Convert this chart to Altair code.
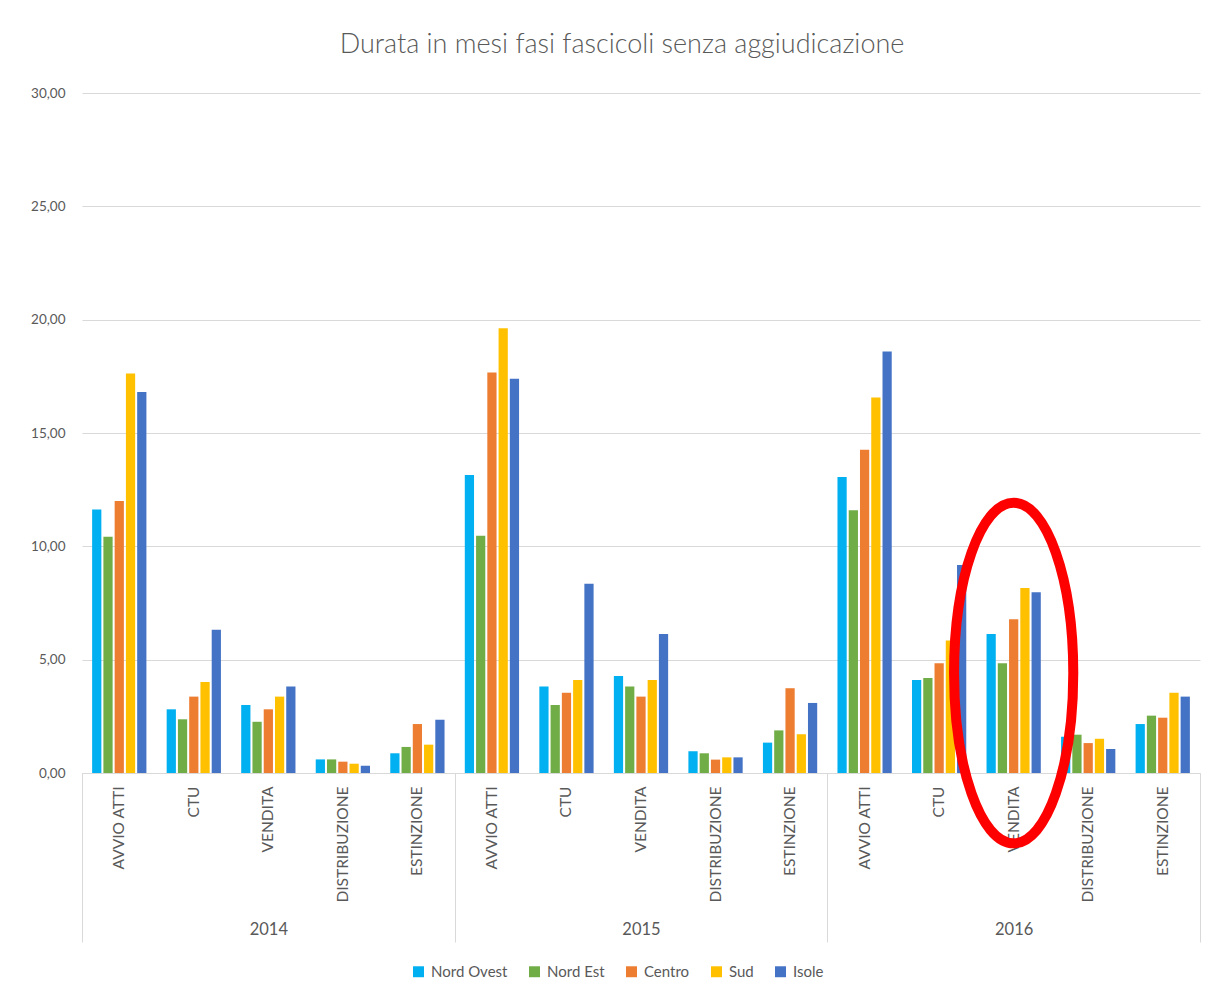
import altair as alt
import pandas as pd

years = ["2014", "2015", "2016"]
phases = ["AVVIO ATTI", "CTU", "VENDITA", "DISTRIBUZIONE", "ESTINZIONE"]
regions = ["Nord Ovest", "Nord Est", "Centro", "Sud", "Isole"]
colors = ["#00B0F0", "#70AD47", "#ED7D31", "#FFC000", "#4472C4"]

# values[year][phase] = [Nord Ovest, Nord Est, Centro, Sud, Isole]
v2014 = {
    "AVVIO ATTI":    [11.63, 10.42, 12.00, 17.63, 16.81],
    "CTU":           [2.81, 2.37, 3.37, 4.01, 6.32],
    "VENDITA":       [3.00, 2.26, 2.81, 3.37, 3.82],
    "DISTRIBUZIONE": [0.60, 0.60, 0.50, 0.41, 0.32],
    "ESTINZIONE":    [0.87, 1.15, 2.16, 1.25, 2.35],
}
v2015 = {
    "AVVIO ATTI":    [13.15, 10.47, 17.67, 19.62, 17.39],
    "CTU":           [3.82, 3.00, 3.54, 4.10, 8.35],
    "VENDITA":       [4.28, 3.82, 3.37, 4.10, 6.13],
    "DISTRIBUZIONE": [0.96, 0.87, 0.59, 0.69, 0.69],
    "ESTINZIONE":    [1.34, 1.88, 3.74, 1.71, 3.09],
}
v2016 = {
    "AVVIO ATTI":    [13.06, 11.59, 14.26, 16.57, 18.60],
    "CTU":           [4.10, 4.19, 4.84, 5.85, 9.18],
    "VENDITA":       [6.13, 4.84, 6.78, 8.16, 7.97],
    "DISTRIBUZIONE": [1.60, 1.69, 1.32, 1.51, 1.06],
    "ESTINZIONE":    [2.16, 2.53, 2.44, 3.54, 3.37],
}
values = {"2014": v2014, "2015": v2015, "2016": v2016}

# highlighted group (red ellipse annotation)
highlight_year = "2016"
highlight_phase = "VENDITA"
highlight_center = 4.41

rows = []
for y in years:
    for p in phases:
        for r, val in zip(regions, values[y][p]):
            rows.append({"cat": f"{y}|{p}", "year": y, "phase": p, "region": r, "value": val})
df = pd.DataFrame(rows)
cats = [f"{y}|{p}" for y in years for p in phases]

FONT = "Lato"
GRAY = "#595959"
LINE = "#d9d9d9"

xcat = alt.X(
    "cat:N",
    sort=cats,
    scale=alt.Scale(domain=cats, paddingInner=0, paddingOuter=0),
    axis=alt.Axis(
        title=None, orient="bottom", labelAngle=270, labelAlign="right",
        labelBaseline="middle", labelPadding=13, ticks=False, domain=True,
        domainColor=LINE, labelColor=GRAY, labelFontSize=15.5, labelFont=FONT,
        labelExpr="split(datum.value, '|')[1]",
    ),
)

yenc = alt.Y(
    "value:Q",
    scale=alt.Scale(domain=[0, 30]),
    axis=alt.Axis(
        title=None, values=[0, 5, 10, 15, 20, 25, 30], grid=True, gridColor=LINE,
        domain=False, ticks=False, labelColor=GRAY, labelFontSize=13.5, labelFont=FONT,
        labelPadding=17, labelExpr="replace(format(datum.value, '.2f'), '.', ',')",
    ),
)

bars = alt.Chart(df).mark_bar().encode(
    x=xcat,
    xOffset=alt.XOffset("region:N", sort=regions,
                        scale=alt.Scale(domain=regions, paddingInner=0.18, paddingOuter=0.9)),
    y=yenc,
    color=alt.Color(
        "region:N", sort=regions,
        scale=alt.Scale(domain=regions, range=colors),
        legend=alt.Legend(
            title=None, orient="none", direction="horizontal", legendX=329, legendY=871,
            symbolType="square", symbolSize=120, symbolStrokeWidth=0,
            labelColor=GRAY, labelFontSize=15, labelFont=FONT, columnPadding=19,
            labelOffset=5,
        ),
    ),
)

ell_df = pd.DataFrame([{"cat": f"{highlight_year}|{highlight_phase}", "value": highlight_center}])
ellipse = alt.Chart(ell_df).mark_point(
    shape="M0,-1 A0.35,1 0 1,1 0,1 A0.35,1 0 1,1 0,-1 Z",
    size=116000, filled=False, stroke="#ff0000", strokeWidth=10, opacity=1, clip=False,
).encode(x=xcat, y=yenc)

year_df = pd.DataFrame({"year": years})
year_axis = alt.Chart(year_df).mark_tick(opacity=0).encode(
    x=alt.X(
        "year:N", sort=years,
        scale=alt.Scale(domain=years, paddingInner=0, paddingOuter=0),
        axis=alt.Axis(
            title=None, orient="bottom", tickBand="extent", tickSize=169, tickColor=LINE,
            tickWidth=1, domain=False, labelAngle=0, labelBaseline="top",
            labelPadding=-21, labelColor=GRAY, labelFontSize=16.5, labelFont=FONT,
        ),
    ),
)

main = alt.layer(bars, ellipse)
chart = alt.layer(main, year_axis).resolve_scale(x="independent").resolve_axis(x="independent").properties(
    width=1118,
    height=680,
    title=alt.TitleParams(
        "Durata in mesi fasi fascicoli senza aggiudicazione",
        fontSize=27, font=FONT, fontWeight=300, color=GRAY, anchor="middle",
        offset=27, dx=-19,
    ),
    autosize=alt.AutoSizeParams(type="none"),
    padding={"left": 74, "top": 85, "right": 9, "bottom": 215},
).configure(background="white").configure_view(strokeWidth=0, stroke="transparent")

chart.save("out.html", embed_options={"renderer": "svg", "actions": False})
